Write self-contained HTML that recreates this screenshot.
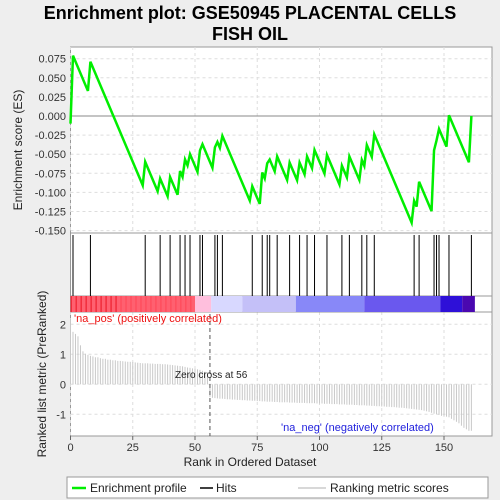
<!DOCTYPE html>
<html><head><meta charset="utf-8"><style>
body{margin:0;background:#eeeeee;}
svg{display:block;font-family:"Liberation Sans",sans-serif;}
</style></head><body>
<svg id="c" width="500" height="500" xmlns="http://www.w3.org/2000/svg">
<rect x="0" y="0" width="500" height="500" fill="#eeeeee"/>
<text x="250" y="19" text-anchor="middle" font-size="18" font-weight="bold">Enrichment plot: GSE50945 PLACENTAL CELLS</text>
<text x="250" y="40" text-anchor="middle" font-size="18" font-weight="bold">FISH OIL</text>
<g id="g"></g>
</svg>
<script>
const hitRanks=[1,8,30,36,40,44,46,48,52,53,58,59,61,73,77,79,80,83,88,92,95,98,103,109,112,117,119,122,138,140,146,147,148,152,161];
const esPeaks=[0.079,0.071,-0.060,-0.082,-0.080,-0.072,-0.057,-0.050,-0.045,-0.037,-0.041,-0.034,-0.026,-0.092,-0.074,-0.062,-0.057,-0.053,-0.061,-0.061,-0.053,-0.0445,-0.051,-0.065,-0.053,-0.0576,-0.038,-0.024,-0.111,-0.086,-0.045,-0.032,-0.017,0.001,0.000];
const esStart=-0.010;
const missStep=0.0077;
const metric=[2.2,1.75,1.68,1.6,1.3,1.1,1.02,0.98,0.95,0.93,
0.9,0.9,0.87,0.85,0.85,0.82,0.82,0.8,0.8,0.78,
0.78,0.77,0.76,0.75,0.75,0.74,0.73,0.72,0.71,0.7,
0.7,0.7,0.69,0.69,0.68,0.68,0.68,0.67,0.67,0.66,
0.65,0.64,0.63,0.62,0.61,0.6,0.58,0.56,0.55,0.53,
0.52,0.5,0.48,0.45,0.42,0.4,
-0.42,-0.45,-0.46,-0.47,-0.48,-0.48,-0.49,-0.5,-0.5,-0.51,
-0.51,-0.52,-0.52,-0.53,-0.53,-0.54,-0.54,-0.55,-0.55,-0.56,
-0.56,-0.57,-0.57,-0.58,-0.58,-0.58,-0.59,-0.59,-0.6,-0.6,
-0.6,-0.6,-0.61,-0.61,-0.61,-0.62,-0.62,-0.62,-0.62,-0.63,
-0.63,-0.63,-0.63,-0.64,-0.64,-0.64,-0.65,-0.65,-0.65,-0.66,
-0.66,-0.66,-0.67,-0.67,-0.67,-0.68,-0.68,-0.68,-0.69,-0.69,
-0.7,-0.7,-0.7,-0.71,-0.71,-0.72,-0.72,-0.73,-0.73,-0.74,
-0.74,-0.75,-0.75,-0.76,-0.76,-0.77,-0.78,-0.78,-0.79,-0.8,
-0.81,-0.82,-0.83,-0.84,-0.85,-0.86,-0.88,-0.9,-0.92,-0.95,
-0.98,-1.0,-1.02,-1.05,-1.05,-1.08,-1.1,-1.15,-1.2,-1.25,
-1.3,-1.38,-1.45,-1.5,-1.55,-1.55];
const xTicks=[0,25,50,75,100,125,150];
const esTicks=[0.075,0.05,0.025,0,-0.025,-0.05,-0.075,-0.1,-0.125,-0.15];
const esTickLabels=["0.075","0.050","0.025","0.000","-0.025","-0.050","-0.075","-0.100","-0.125","-0.150"];
const mTicks=[2,1,0,-1];
const zeroCross=56;
const bandStops=[0,50,56.5,69,90.5,118,148.6,157.3,162.4];
const bandColors=["#ff6070","#ffbfdd","#d8d8ff","#c4c0f8","#8888f8","#6a58ee","#2e10d8","#4a08b0"];

const NS="http://www.w3.org/2000/svg";
const g=document.getElementById('g');
function el(t,a,p){const e=document.createElementNS(NS,t);for(const k in a)e.setAttribute(k,a[k]);(p||g).appendChild(e);return e;}
const X0=70.5,X1=492,PX=2.49;
const x=r=>X0+r*PX;
const ES0=116,ESK=764;
const yE=v=>ES0-v*ESK;
const M0=384.3,MK=30;
const yM=v=>M0-v*MK;
const T0=47,T1=233,H0=233,H1=296,B0=296,B1=312,M_TOP=312,M_BOT=436;

let r;
r=el('rect',{x:X0,y:T0,width:X1-X0,height:M_BOT-T0,fill:'#fff',stroke:'#999'});

xTicks.forEach(t=>{
 const l=el('line',{x1:x(t),x2:x(t),y1:T0,y2:T1,stroke:'#ddd','stroke-dasharray':'3,3'});
 
 const l2=el('line',{x1:x(t),x2:x(t),y1:M_TOP,y2:M_BOT,stroke:'#ddd','stroke-dasharray':'3,3'});
 
 const tk=el('line',{x1:x(t),x2:x(t),y1:M_BOT,y2:M_BOT+4,stroke:'#666'});
 
 const tx=el('text',{x:x(t),y:M_BOT+15,'text-anchor':'middle','font-size':11,fill:'#333'});
 tx.textContent=t;
});
esTicks.forEach((t,i)=>{
 const l=el('line',{x1:X0,x2:X1,y1:yE(t),y2:yE(t),stroke:t===0?'#888':'#ddd','stroke-dasharray':t===0?'':'3,3'});
 
 const tx=el('text',{x:66,y:yE(t)+4,'text-anchor':'end','font-size':11,fill:'#333'});
 tx.textContent=esTickLabels[i];
});
mTicks.forEach(t=>{
 const l=el('line',{x1:X0,x2:X1,y1:yM(t),y2:yM(t),stroke:'#ddd','stroke-dasharray':'3,3'});
 
 const tx=el('text',{x:66,y:yM(t)+4,'text-anchor':'end','font-size':11,fill:'#333'});
 tx.textContent=t;
});
[T1,B0,B1].forEach(yy=>{const l=el('line',{x1:X0,x2:X1,y1:yy,y2:yy,stroke:'#999'});
 });
let pts=[[0,esStart]];
hitRanks.forEach((h,i)=>{
 if(i>0){const prev=hitRanks[i-1];if(h-1>prev)pts.push([h-1,esPeaks[i-1]-missStep*(h-1-prev)]);}
 pts.push([h,esPeaks[i]]);
});
const pl=el('polyline',{points:pts.map(p=>x(p[0])+','+yE(p[1])).join(' '),fill:'none',stroke:'#00ee00','stroke-width':2.5});

hitRanks.forEach(h=>{const l=el('line',{x1:x(h),x2:x(h),y1:H0+2,y2:H1,stroke:'#000','stroke-width':1});
 });
for(let i=0;i<bandColors.length;i++){
 const rr=el('rect',{x:x(bandStops[i]),y:B0,width:x(bandStops[i+1])-x(bandStops[i]),height:B1-B0,fill:bandColors[i]});
 
}
for(let k=0;k<50;k+=2){const s=el('rect',{x:x(k),y:B0,width:PX*0.6,height:B1-B0,fill:k<20?'#ee2030':'#ff4a5a',opacity:0.8});
 }
metric.forEach((v,i)=>{const l=el('line',{x1:x(i),x2:x(i),y1:yM(0),y2:yM(v),stroke:'#c8c8c8','stroke-width':1});
 });
let zc=el('line',{x1:x(zeroCross),x2:x(zeroCross),y1:M_TOP+2,y2:M_BOT,stroke:'#555','stroke-dasharray':'4,3'});

let t;
t=el('text',{x:175,y:378,'font-size':10,fill:'#222'});t.textContent='Zero cross at 56';

t=el('text',{x:74,y:322,'font-size':11,fill:'#ee1111'});t.textContent="'na_pos' (positively correlated)";

t=el('text',{x:281,y:431,'font-size':11,fill:'#2222dd'});t.textContent="'na_neg' (negatively correlated)";

t=el('text',{x:250,y:466,'text-anchor':'middle','font-size':12,fill:'#222'});t.textContent='Rank in Ordered Dataset';

t=el('text',{x:0,y:0,'text-anchor':'middle','font-size':12,fill:'#222',transform:'translate(22,150) rotate(-90)'});t.textContent='Enrichment score (ES)';

t=el('text',{x:0,y:0,'text-anchor':'middle','font-size':12,fill:'#222',transform:'translate(46,374) rotate(-90)'});t.textContent='Ranked list metric (PreRanked)';

r=el('rect',{x:67,y:477,width:421,height:21,fill:'#fff',stroke:'#999'});

let ll=el('line',{x1:72,x2:86,y1:488,y2:488,stroke:'#00ee00','stroke-width':2.5});
t=el('text',{x:90,y:492,'font-size':12,fill:'#222'});t.textContent='Enrichment profile';
ll=el('line',{x1:200,x2:213,y1:488,y2:488,stroke:'#000','stroke-width':1.5});
t=el('text',{x:216,y:492,'font-size':12,fill:'#222'});t.textContent='Hits';
ll=el('line',{x1:298,x2:326,y1:488,y2:488,stroke:'#ccc','stroke-width':1.5});
t=el('text',{x:330,y:492,'font-size':12,fill:'#222'});t.textContent='Ranking metric scores';
</script>
</body></html>
